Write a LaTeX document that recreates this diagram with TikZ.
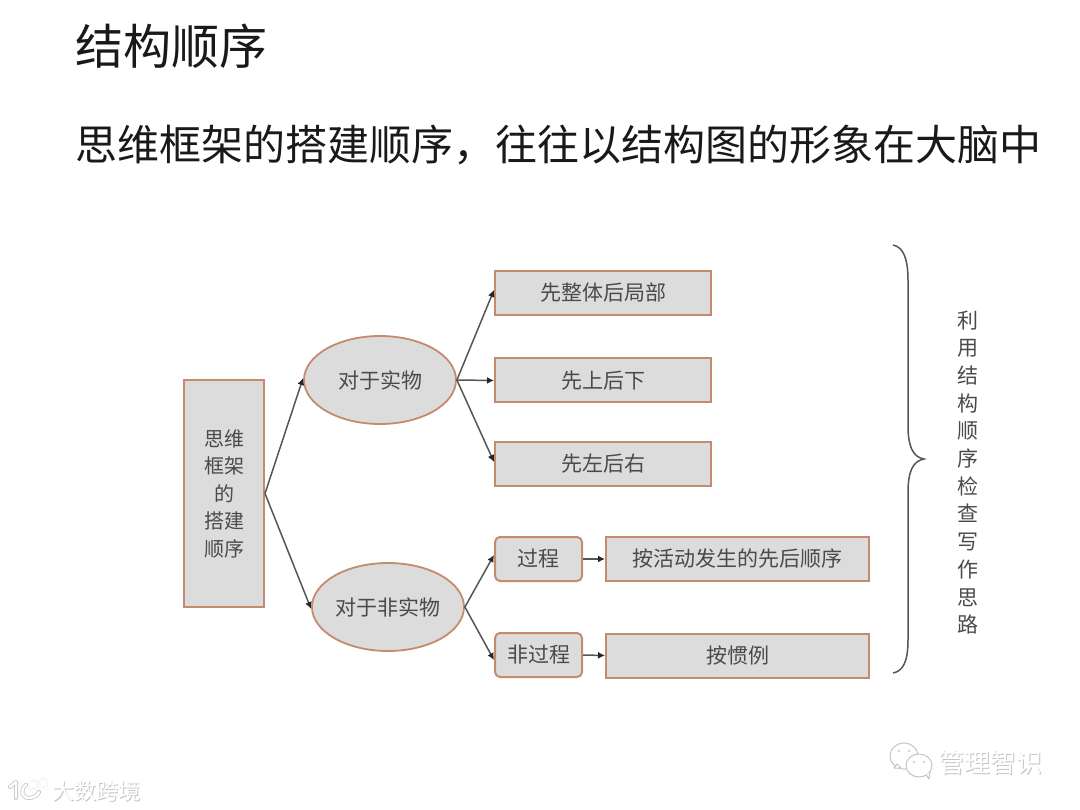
\documentclass[tikz,border=0pt]{standalone}
\usepackage{fontspec}
\setmainfont{Noto Sans CJK SC}
\usetikzlibrary{shapes.geometric,arrows.meta}
\definecolor{boxfill}{HTML}{DCDCDC}
\definecolor{boxedge}{HTML}{C68A6E}
\definecolor{ink}{HTML}{4A4A4A}
\definecolor{linkc}{HTML}{555555}
\definecolor{wmgray}{HTML}{C4C4C4}
\tikzset{
  x=1pt,y=-1pt,
  labeltext/.style={font=\fontsize{21}{24}\selectfont,text=ink,inner sep=0pt},
  plainbox/.style={draw=boxedge,line width=2pt,fill=boxfill,rectangle,minimum width=#1,labeltext},
  tallbox/.style={plainbox=216pt,minimum height=44pt},
  oval/.style={draw=boxedge,line width=1.8pt,fill=boxfill,ellipse,labeltext,minimum width=152pt,minimum height=88pt},
  softbox/.style={plainbox=87pt,rounded corners=5pt,minimum height=44pt},
  widebox/.style={plainbox=263pt,minimum height=44pt},
  link/.style={draw=linkc,line width=1.5pt,-{Latex[length=7pt,width=7pt,color=black!85]}},
  titletext/.style={anchor=west,inner sep=0pt,text=black!90},
  wm/.style={anchor=west,inner sep=0pt},
  logoback/.style={draw=wmgray,line width=4pt,line cap=round,line join=round},
  logofront/.style={draw=white,line width=2.4pt,line cap=round,line join=round},
  chat/.style={draw=wmgray,line width=1pt,fill=white,line join=round},
}
\newcommand{\logopath}[1]{%
  \draw[#1] (10,787) -- (16,782) -- (16,798);
  \draw[#1] (26,785) .. controls (20,789) and (21,798) .. (29,798) .. controls (34,798) and (38,795) .. (39,792);
  \draw[#1,line width=1.6pt] (33,785) circle[radius=4.5];
  \draw[#1,line width=1.6pt] (43,783) circle[radius=4.5];
}
\begin{document}
\begin{tikzpicture}
\useasboundingbox (0,0) rectangle (1080,810);
\node[titletext,font=\fontsize{48}{56}\selectfont] (title) at (75,46) {结构顺序};
\node[titletext,font=\fontsize{42}{50}\selectfont] (sub) at (75,145) {思维框架的搭建顺序，往往以结构图的形象在大脑中};

\node[plainbox=80pt,minimum height=227pt,align=center,font=\fontsize{20}{27.5}\selectfont] (root) at (224,493.5) {思维\\框架\\的\\搭建\\顺序};
\node[oval] (real) at (380,380) {对于实物};
\node[oval] (nonreal) at (388,607) {对于非实物};
\node[tallbox] (a) at (603,293) {先整体后局部};
\node[tallbox] (b) at (603,380.5) {先上后下};
\node[tallbox] (c) at (603,464) {先左后右};
\node[softbox] (proc) at (538.5,559) {过程};
\node[softbox] (nonproc) at (538.5,655) {非过程};
\node[widebox] (order) at (737.5,559) {按活动发生的先后顺序};
\node[widebox] (habit) at (737.5,655.5) {按惯例};

\draw[link] (root.east) -- ([yshift=2pt]real.west);
\draw[link] (root.east) -- ([yshift=-2pt]nonreal.west);
\draw[link] (real.east) -- ([yshift=3pt]a.west);
\draw[link] (real.east) -- (b.west);
\draw[link] (real.east) -- ([yshift=2pt]c.west);
\draw[link] (nonreal.east) -- ([yshift=4pt]proc.west);
\draw[link] (nonreal.east) -- ([yshift=-5pt]nonproc.west);
\draw[link] (proc.east) -- (order.west);
\draw[link] (nonproc.east) -- (habit.west);

\draw[linkc,line width=1.5pt] (893,245) .. controls (903,247) and (908,258) .. (908,280)
  -- (908,425) .. controls (908,447) and (913,457) .. (924,459)
  .. controls (913,461) and (908,471) .. (908,493)
  -- (908,640) .. controls (908,662) and (903,671) .. (893,673);
\node[labeltext,align=center,font=\fontsize{21}{27.7}\selectfont] (note) at (968,472.5) {利\\用\\结\\构\\顺\\序\\检\\查\\写\\作\\思\\路};

% watermark, lower left
\logopath{logoback}
\logopath{logofront}
\node[wm,text=wmgray,font=\fontsize{22}{26}\selectfont] (wma) at (53,792) {大数跨境};
\node[wm,text=white,font=\fontsize{22}{26}\selectfont] (wmb) at (52,791) {大数跨境};

% watermark, lower right
\draw[chat] (904,756) ellipse[x radius=14,y radius=13];
\draw[chat] (894,768) -- (897,764) -- (901,768) -- cycle;
\draw[chat] (919,765.5) ellipse[x radius=13,y radius=11.5];
\draw[chat] (926,775) -- (929,779) -- (930,772);
\fill[wmgray] (899,751) circle[radius=1.2] (909,751) circle[radius=1.2] (914,762) circle[radius=1.2] (924,762) circle[radius=1.2];
\node[wm,text=wmgray,font=\fontsize{26}{30}\selectfont] (wmc) at (939,764) {管理智识};
\node[wm,text=white,font=\fontsize{26}{30}\selectfont] (wmd) at (938,763) {管理智识};
\end{tikzpicture}
\end{document}
